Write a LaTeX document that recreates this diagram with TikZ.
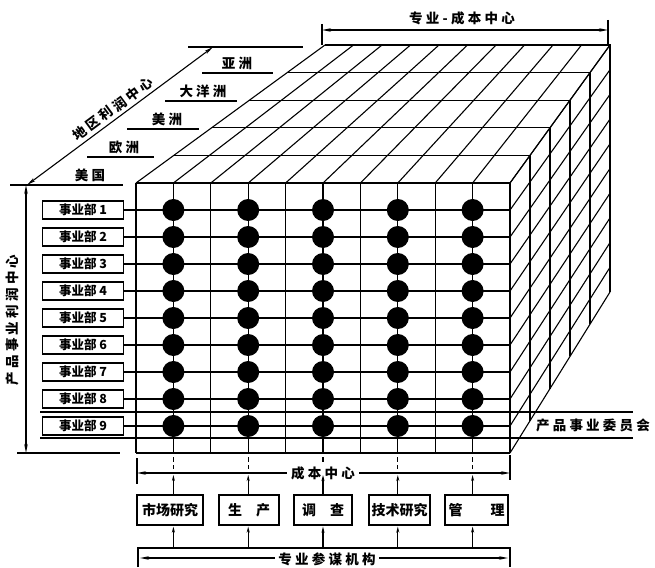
\documentclass[tikz,border=0pt]{standalone}
\usepackage{fontspec}
\setmainfont{Liberation Serif}
\newfontfamily\cjk{Noto Sans CJK SC}
\newfontfamily\cjksp[LetterSpace=24]{Noto Sans CJK SC}
\usetikzlibrary{arrows.meta,calc}
\tikzset{
  divbox/.style={draw, line width=1.3pt, minimum width=81pt, minimum height=18pt, inner sep=0pt, font=\cjk\bfseries\fontsize{12.5}{12.5}\selectfont},
  funcbox/.style={draw, line width=1.2pt, minimum height=30pt, inner sep=0pt, font=\cjk\bfseries\fontsize{14}{14}\selectfont},
  lbl/.style={font=\cjksp\bfseries\fontsize{13.5}{13.5}\selectfont, inner sep=1pt},
  chr/.style={font=\cjk\bfseries\fontsize{13.5}{13.5}\selectfont, inner sep=0pt},
  dimarrow/.style={{Stealth[length=9pt,width=3.5pt]}-{Stealth[length=9pt,width=3.5pt]}, line width=1.1pt},
  uparrow/.style={-{Stealth[length=6pt,width=3pt]}, line width=1.1pt},
  bigdot/.style={fill=black},
  gridline/.style={line width=1.1pt}
}
\begin{document}
\begin{tikzpicture}[x=1pt,y=-1pt,line width=1.1pt]
\useasboundingbox (0,0) rectangle (655,567);
% ---- top face and right face
\foreach \k in {0,...,5} {
  \pgfmathsetmacro\t{\k/5}
  \pgfmathsetmacro\lx{136+189*\t}
  \pgfmathsetmacro\rx{510+100*\t}
  \pgfmathsetmacro\ty{183-138*\t}
  \pgfmathsetmacro\by{453-161*\t}
  \draw[gridline] (\lx,\ty) -- (\rx,\ty) -- (\rx,\by);
}
\foreach \j in {0,...,10} {
  \draw[gridline] (136+37.4*\j,183) -- (325+28.5*\j,45);
}
\foreach \r in {0,...,10} {
  \draw[gridline] (510,183+27*\r) -- (610,45+24.7*\r);
}
% ---- front face
\foreach \j in {0,...,10} {
  \draw[gridline] (136+37.4*\j,183) -- (136+37.4*\j,453);
}
\foreach \r in {0,...,10} {
  \draw[gridline] (136,183+27*\r) -- (510,183+27*\r);
}
\foreach \c in {1,3,5,7,9} {
  \foreach \r in {1,...,9} {
    \fill[bigdot] (136+37.4*\c,183+27*\r) circle[radius=11pt];
  }
}
% ---- division boxes
\foreach \r in {1,...,9} {
  \node[divbox] (d\r) at (83,183+27*\r) {事业部 \r};
  \draw[gridline] (d\r.east) -- (136,183+27*\r);
}
% ---- product committee band
\coordinate (bandL1) at (40,412);
\coordinate (bandR1) at (633,412);
\coordinate (bandL2) at (40,438);
\coordinate (bandR2) at (633,438);
\draw (bandL1) -- (bandR1);
\draw (bandL2) -- (bandR2);
\node[lbl, anchor=center] (pc) at (593,425) {产品事业委员会};
% ---- left vertical dimension
\coordinate (vTop) at (26,185);
\coordinate (vBot) at (26,453);
\draw (10,185) -- (123,185);
\draw (17,453) -- (120,453);
\draw[dimarrow] (vTop) -- (vBot);
\node[lbl, rotate=90] (vlab) at (12,320) {产品事业利润中心};
% ---- region labels
\draw (87,157) -- (154,157);
\draw (127,129) -- (199,129);
\draw (165,101) -- (237,101);
\draw (202,73) -- (273,73);
\draw (188,47) -- (303,47);
\node[lbl, anchor=south] (r1) at (90,183) {美国};
\node[lbl, anchor=south] (r2) at (124,155) {欧洲};
\node[lbl, anchor=south] (r3) at (167,127) {美洲};
\node[lbl, anchor=south] (r4) at (203,99) {大洋洲};
\node[lbl, anchor=south] (r5) at (237,71) {亚洲};
\coordinate (dA) at (27,185);
\coordinate (dB) at (213,47);
\draw[dimarrow] (dA) -- (dB);
% label along the diagonal, one character at a time
\foreach \ch [count=\i] in {地,区,利,润,中,心} {
  \pgfmathsetmacro\s{73+16.5*(\i-1)}
  \node[chr, rotate=36.6] (dl\i) at ($(dA)!\s pt!(dB)+(-6,-8)$) {\ch};
}
% ---- top dimension
\coordinate (tL) at (322,30);
\coordinate (tR) at (608,30);
\draw (322,24) -- (322,45);
\draw (608,20) -- (608,45);
\draw[dimarrow] (tL) -- (tR);
\node[lbl] (tlab) at (462,18) {专业-成本中心};
% ---- cost centre line
\foreach \c/\n in {1/1,3/2,5/3,7/4,9/5} {
  \coordinate (col\n) at (136+37.4*\c,453);
  \draw[dash pattern=on 5pt off 3pt] (136+37.4*\c,457) -- (136+37.4*\c,469);
}
\coordinate (cl) at (137,473);
\coordinate (cr) at (510,473);
\draw (137,458) -- (137,484);
\draw (510,455) -- (510,480);
\draw[dimarrow] (cl) -- (cr);
\node[lbl, fill=white, inner sep=4pt] (cost) at (323,473) {成本中心};
% ---- functional boxes
\node[funcbox, minimum width=66pt] (b1) at (170,510) {市场研究};
\node[funcbox, minimum width=60pt] (b2) at (249,510) {生\hspace{1em}产};
\node[funcbox, minimum width=58pt] (b3) at (323,510) {调\hspace{1em}查};
\node[funcbox, minimum width=61pt] (b4) at (399.5,510) {技术研究};
\node[funcbox, minimum width=63pt] (b5) at (476.5,510) {管\hspace{2em}理};
% ---- staff bar
\coordinate (sL) at (138,548);
\coordinate (sR) at (510,548);
\draw (138,567) -- (sL) -- (sR) -- (510,567);
\coordinate (saL) at (140,558);
\coordinate (saR) at (508,558);
\draw[dimarrow] (saL) -- (saR);
\node[lbl, fill=white, inner sep=3pt] (staff) at (327,559) {专业参谋机构};
% ---- arrows
\foreach \n in {1,...,5} {
  \draw[uparrow] (b\n.north -| col\n) -- ($(col\n |- cl)+(0,2)$);
  \draw[uparrow] (col\n |- sL) -- ($(b\n.south -| col\n)+(0,1)$);
}
\end{tikzpicture}
\end{document}
